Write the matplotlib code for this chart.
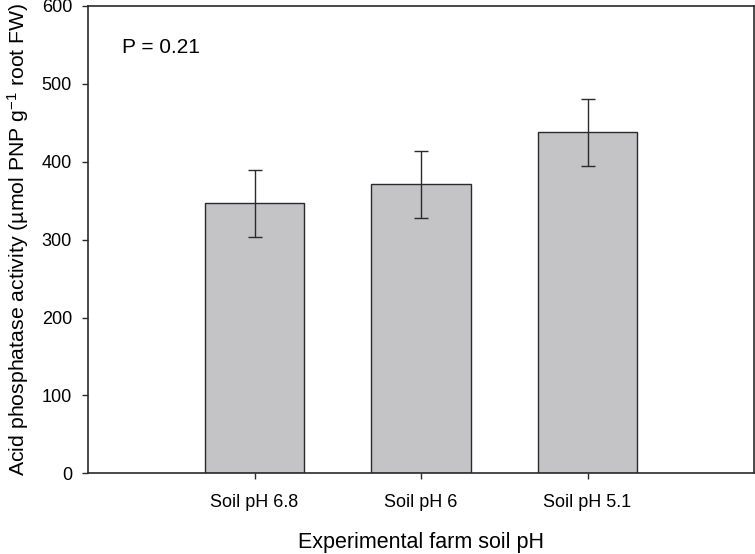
import numpy as np
import matplotlib
matplotlib.use('Agg')
import matplotlib.pyplot as plt

plt.rcParams['font.family'] = ['Liberation Sans', 'DejaVu Sans']
plt.rcParams['mathtext.fontset'] = 'custom'
plt.rcParams['mathtext.rm'] = 'Liberation Sans'
plt.rcParams['mathtext.it'] = 'Liberation Sans:italic'

# Data
categories = ['Soil pH 6.8', 'Soil pH 6', 'Soil pH 5.1']
activity = [347, 371, 438]
activity_err = [43, 43, 43]
p_label = 'P = 0.21'

fig = plt.figure(figsize=(7.55, 5.54), dpi=100)
ax = fig.add_axes([0.1166, 0.1457, 0.8821, 0.8435])

x = np.arange(1, len(categories) + 1)
ax.bar(x, activity, width=0.6, color='#c4c4c6', edgecolor='#2a2a2a', linewidth=1.0, zorder=2)
ax.errorbar(x, activity, yerr=activity_err, fmt='none', ecolor='#2a2a2a',
            elinewidth=1.0, capsize=5.2, capthick=1.0, zorder=3)

ax.set_xlim(0, len(categories) + 1)
ax.set_ylim(0, 600)
ax.set_xticks(x)
ax.set_xticklabels(categories)
ax.set_yticks(np.arange(0, 601, 100))

ax.tick_params(axis='both', direction='out', length=4.5, width=1.0, color='#2a2a2a', labelsize=13)
ax.tick_params(axis='x', pad=10.5)
ax.tick_params(axis='y', pad=7)
for s in ax.spines.values():
    s.set_linewidth(1.2)
    s.set_color('#2a2a2a')

ax.set_xlabel('Experimental farm soil pH', fontsize=15.5, labelpad=15)
ax.set_ylabel('Acid phosphatase activity (µmol PNP g$^{-1}$ root FW)', fontsize=15.3, labelpad=8)

ax.text(0.204, 547, p_label, fontsize=15, ha='left', va='center')

fig.savefig('out.png', dpi=100)
